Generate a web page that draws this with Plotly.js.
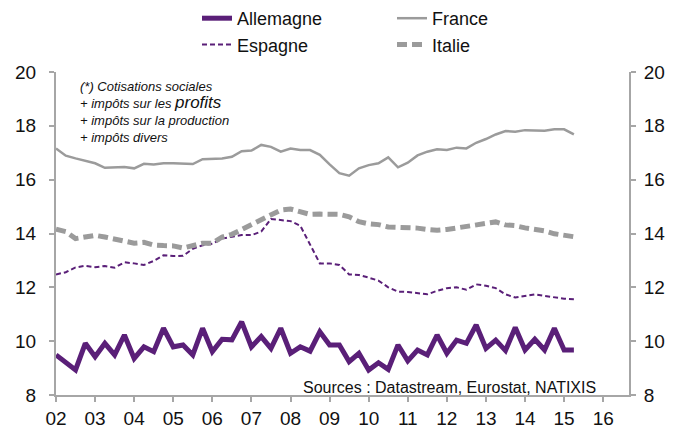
<!DOCTYPE html>
<html>
<head>
<meta charset="utf-8">
<script src="https://cdn.plot.ly/plotly-3.0.1.min.js"></script>
<style>
html,body{margin:0;padding:0;background:#fff;}
#chart{width:676px;height:432px;}
</style>
</head>
<body>
<div id="chart"></div>
<script>
// Quarterly data, 2002 Q1 to 2015 Q2
var startYear = 2002;
var quarters = [];
for (var i = 0; i < 54; i++) { quarters.push(startYear + i / 4); }

var allemagne = [9.49, 9.20, 8.93, 9.92, 9.42, 9.92, 9.49, 10.23, 9.36, 9.79, 9.61, 10.48, 9.79, 9.86, 9.49, 10.48, 9.61, 10.07,
  10.05, 10.72, 9.79, 10.17, 9.73, 10.48, 9.55, 9.79, 9.63, 10.35, 9.86, 9.86, 9.24, 9.55, 8.93, 9.20, 8.95, 9.86,
  9.27, 9.67, 9.49, 10.23, 9.55, 10.04, 9.92, 10.60, 9.73, 10.04, 9.65, 10.51, 9.67, 10.07, 9.67, 10.48, 9.67, 9.67];

var france = [17.16, 16.89, 16.79, 16.69, 16.61, 16.44, 16.45, 16.47, 16.42, 16.59, 16.56, 16.61, 16.61, 16.59, 16.58, 16.76, 16.77, 16.79,
  16.85, 17.06, 17.08, 17.29, 17.22, 17.04, 17.16, 17.10, 17.10, 16.92, 16.57, 16.24, 16.15, 16.42, 16.54, 16.61, 16.83, 16.46,
  16.63, 16.90, 17.04, 17.13, 17.10, 17.19, 17.16, 17.37, 17.51, 17.68, 17.81, 17.78, 17.84, 17.83, 17.82, 17.87, 17.87, 17.68];

var espagne = [12.48, 12.56, 12.74, 12.80, 12.75, 12.79, 12.73, 12.93, 12.89, 12.83, 12.98, 13.19, 13.16, 13.17, 13.43, 13.56, 13.62, 13.81,
  13.88, 13.94, 13.94, 14.07, 14.54, 14.50, 14.46, 14.29, 13.57, 12.89, 12.89, 12.83, 12.48, 12.46, 12.36, 12.25, 12.00, 11.84,
  11.83, 11.79, 11.74, 11.87, 11.97, 12.00, 11.91, 12.11, 12.06, 11.97, 11.74, 11.62, 11.69, 11.74, 11.68, 11.63, 11.58, 11.56];

var italie = [14.16, 14.07, 13.81, 13.86, 13.93, 13.87, 13.80, 13.70, 13.64, 13.67, 13.57, 13.55, 13.54, 13.46, 13.56, 13.64, 13.64, 13.87,
  13.97, 14.16, 14.34, 14.50, 14.71, 14.87, 14.91, 14.81, 14.71, 14.72, 14.72, 14.71, 14.62, 14.44, 14.36, 14.33, 14.24, 14.24,
  14.23, 14.20, 14.15, 14.12, 14.15, 14.20, 14.28, 14.34, 14.38, 14.43, 14.32, 14.29, 14.21, 14.17, 14.10, 13.99, 13.94, 13.88];

var yearTicks = [2002, 2003, 2004, 2005, 2006, 2007, 2008, 2009, 2010, 2011, 2012, 2013, 2014, 2015, 2016];
var yearLabels = ['02', '03', '04', '05', '06', '07', '08', '09', '10', '11', '12', '13', '14', '15', '16'];
var yTicks = [8, 10, 12, 14, 16, 18, 20];

var purple = '#5A1F78';
var grey = '#9B9B9B';
var axisGrey = '#A6A6A6';
var font = 'Liberation Sans, Arial, sans-serif';

var traces = [
  {x: quarters, y: allemagne, name: 'Allemagne', type: 'scatter', mode: 'lines',
   line: {color: purple, width: 5}, legend: 'legend'},
  {x: quarters, y: france, name: 'France', type: 'scatter', mode: 'lines',
   line: {color: grey, width: 2.5}, legend: 'legend2'},
  {x: quarters, y: espagne, name: 'Espagne', type: 'scatter', mode: 'lines',
   line: {color: purple, width: 2, dash: '5px,3px'}, legend: 'legend'},
  {x: quarters, y: italie, name: 'Italie', type: 'scatter', mode: 'lines',
   line: {color: grey, width: 5, dash: '10px,5px'}, legend: 'legend2'}
];

var legendCommon = {
  orientation: 'v', xref: 'container', yref: 'container', yanchor: 'top', xanchor: 'left',
  font: {family: font, size: 18, color: '#111'}, bgcolor: 'rgba(0,0,0,0)', itemwidth: 30,
  tracegroupgap: 0
};

var layout = {
  width: 676, height: 432,
  margin: {l: 56, r: 47, t: 72, b: 37, autoexpand: false},
  paper_bgcolor: '#fff', plot_bgcolor: '#fff',
  font: {family: font, size: 19, color: '#111'},
  showlegend: true,
  legend: Object.assign({}, legendCommon, {x: 197 / 676, y: 1 + 1 / 432}),
  legend2: Object.assign({}, legendCommon, {x: 392 / 676, y: 1 + 1 / 432}),
  xaxis: {
    range: [2002, 2016.66], tickmode: 'array', tickvals: yearTicks, ticktext: yearLabels, tickangle: 0,
    showline: true, linecolor: axisGrey, linewidth: 2, ticks: 'outside', ticklen: 5, tickcolor: axisGrey, tickwidth: 2,
    showgrid: false, zeroline: false, automargin: false, tickfont: {family: font, size: 19, color: '#111'}
  },
  yaxis: {
    range: [8, 20], tickmode: 'array', tickvals: yTicks, automargin: false,
    showline: true, linecolor: axisGrey, linewidth: 2, ticks: 'outside', ticklen: 5, tickcolor: axisGrey, tickwidth: 2,
    showgrid: false, zeroline: false, tickfont: {family: font, size: 19, color: '#111'}, ticklabelstandoff: 9
  },
  yaxis2: {
    range: [8, 20], tickmode: 'array', tickvals: yTicks, overlaying: 'y', side: 'right', automargin: false,
    showline: true, linecolor: axisGrey, linewidth: 2, ticks: 'outside', ticklen: 5, tickcolor: axisGrey, tickwidth: 2,
    showgrid: false, zeroline: false, tickfont: {family: font, size: 19, color: '#111'}, ticklabelstandoff: 4
  },
  annotations: [
    {xref: 'paper', yref: 'paper', x: 0.038, y: 0.985, xanchor: 'left', yanchor: 'top', align: 'left', showarrow: false,
     text: '<i>(*) Cotisations sociales<br>+ impôts sur les <span style="font-size:17px">profits</span><br>+ impôts sur la production<br>+ impôts divers</i>',
     font: {family: font, size: 13, color: '#111'}},
    {xref: 'paper', yref: 'paper', x: 0.946, y: -0.01, xanchor: 'right', yanchor: 'bottom', showarrow: false,
     text: 'Sources : Datastream, Eurostat, NATIXIS', font: {family: font, size: 16, color: '#111'}}
  ]
};

// empty trace so that the right-hand axis is drawn
traces.push({x: [2002], y: [null], yaxis: 'y2', showlegend: false, hoverinfo: 'skip', type: 'scatter', mode: 'lines'});

Plotly.newPlot('chart', traces, layout, {staticPlot: true, displayModeBar: false});
</script>
</body>
</html>
